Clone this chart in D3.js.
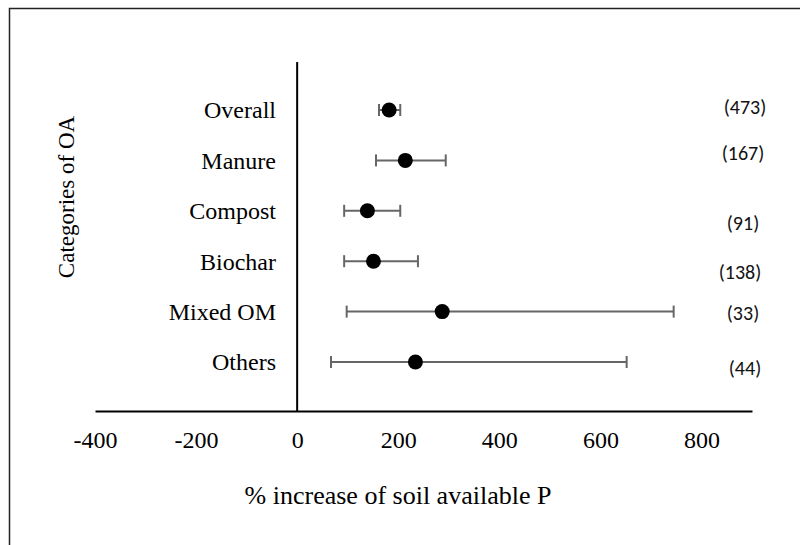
<!DOCTYPE html>
<html>
<head>
<meta charset="utf-8">
<script src="https://cdn.jsdelivr.net/npm/d3@7"></script>
<style>
  body { margin: 0; background: #fff; }
  svg { display: block; }
</style>
</head>
<body>
<div id="chart"></div>
<script>
// data
var categories = ["Overall", "Manure", "Compost", "Biochar", "Mixed OM", "Others"];
var means      = [182, 214, 139, 151, 287, 234];
var lower      = [162, 156, 93, 93, 98, 67];
var upper      = [204, 294, 204, 239, 745, 652];
var counts     = ["(473)", "(167)", "(91)", "(138)", "(33)", "(44)"];
var xTicks     = [-400, -200, 0, 200, 400, 600, 800];

var width = 800, height = 545;

var svg = d3.select("#chart").append("svg")
    .attr("width", width)
    .attr("height", height);

// outer frame (runs off the right and bottom of the picture)
svg.append("rect")
    .attr("x", 9.5).attr("y", 8.5)
    .attr("width", 820).attr("height", 560)
    .attr("fill", "none")
    .attr("stroke", "#222")
    .attr("stroke-width", 1.5);

var x = d3.scaleLinear().domain([-400, 900]).range([95, 752]);
var y = d3.scalePoint().domain(categories).range([110, 362]);

var serif = "Liberation Serif";

// x axis: plain line, labels only
var xAxis = d3.axisBottom(x).tickValues(xTicks).tickSize(0).tickPadding(20)
    .tickFormat(d3.format("d"));

var gx = svg.append("g")
    .attr("transform", "translate(0,411)")
    .call(xAxis);
gx.select(".domain").attr("stroke", "#000").attr("stroke-width", 2);
gx.selectAll("text")
    .style("font-family", serif)
    .style("font-size", "24px")
    .attr("fill", "#000")
    .text(function(d) { return d < 0 ? "-" + Math.abs(d) : d; });

// vertical line at zero
svg.append("line")
    .attr("x1", x(0)).attr("x2", x(0))
    .attr("y1", 62).attr("y2", 411)
    .attr("stroke", "#000")
    .attr("stroke-width", 2);

// category labels
svg.selectAll(".cat")
    .data(categories)
    .enter().append("text")
    .attr("class", "cat")
    .attr("x", 276)
    .attr("y", function(d) { return y(d); })
    .attr("dy", "0.35em")
    .attr("text-anchor", "end")
    .style("font-family", serif)
    .style("font-size", "24px")
    .text(function(d) { return d; });

// error bars
var bars = svg.selectAll(".bar")
    .data(categories)
    .enter().append("g")
    .attr("class", "bar")
    .attr("stroke", "#666")
    .attr("stroke-width", 2);

bars.append("line")
    .attr("x1", function(d, i) { return x(lower[i]); })
    .attr("x2", function(d, i) { return x(upper[i]); })
    .attr("y1", function(d) { return y(d); })
    .attr("y2", function(d) { return y(d); });

bars.append("line")
    .attr("x1", function(d, i) { return x(lower[i]); })
    .attr("x2", function(d, i) { return x(lower[i]); })
    .attr("y1", function(d) { return y(d) - 6; })
    .attr("y2", function(d) { return y(d) + 6; });

bars.append("line")
    .attr("x1", function(d, i) { return x(upper[i]); })
    .attr("x2", function(d, i) { return x(upper[i]); })
    .attr("y1", function(d) { return y(d) - 6; })
    .attr("y2", function(d) { return y(d) + 6; });

// means
svg.selectAll(".dot")
    .data(categories)
    .enter().append("circle")
    .attr("class", "dot")
    .attr("cx", function(d, i) { return x(means[i]); })
    .attr("cy", function(d) { return y(d); })
    .attr("r", 7.5)
    .attr("fill", "#000");

// sample sizes, nudged like in the original
var countDy = [-3, -7, 12, 11, 1, 6];
var countDx = [2, 0, 0, -3, 0, 2];
svg.selectAll(".count")
    .data(counts)
    .enter().append("text")
    .attr("class", "count")
    .attr("x", function(d, i) { return 743 + countDx[i]; })
    .attr("y", function(d, i) { return y(categories[i]) + countDy[i]; })
    .attr("dy", "0.35em")
    .attr("text-anchor", "middle")
    .style("font-family", "Carlito")
    .style("font-size", "20px")
    .attr("fill", "#111")
    .text(function(d) { return d; });

// axis titles
svg.append("text")
    .attr("x", 398)
    .attr("y", 495)
    .attr("dy", "0.35em")
    .attr("text-anchor", "middle")
    .style("font-family", serif)
    .style("font-size", "26px")
    .text("% increase of soil available P");

svg.append("text")
    .attr("transform", "translate(66,197) rotate(-90)")
    .attr("dy", "0.35em")
    .attr("text-anchor", "middle")
    .style("font-family", serif)
    .style("font-size", "23px")
    .text("Categories of OA");
</script>
</body>
</html>
